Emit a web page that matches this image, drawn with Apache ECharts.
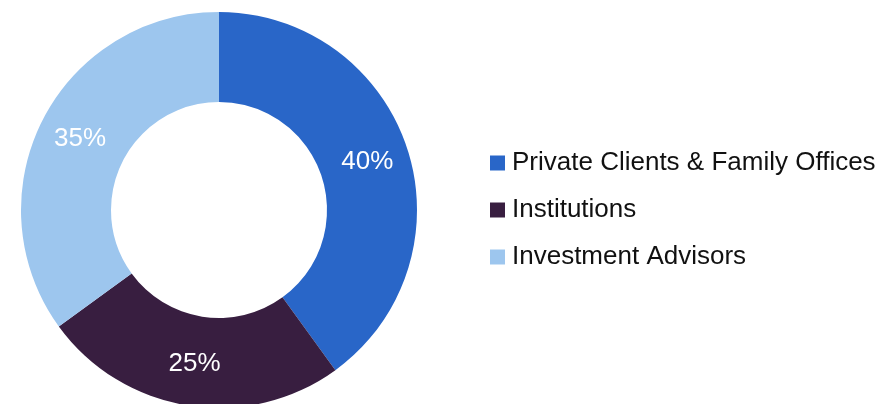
<!DOCTYPE html>
<html>
<head>
<meta charset="utf-8">
<script src="https://cdn.jsdelivr.net/npm/echarts@6/dist/echarts.min.js"></script>
<style>
    html, body { margin: 0; padding: 0; background: #fff; }
    #chart { width: 889px; height: 404px; }
</style>
</head>
<body>
<div id="chart"></div>
<script>
const categories = ['Private Clients & Family Offices', 'Institutions', 'Investment Advisors']
const shares = [40, 25, 35]
const colors = ['#2966C8', '#381E40', '#9DC6EE']

let chart = echarts.init(document.getElementById('chart'))

let option = {
    animation: false,
    color: colors,
    legend: {
        orient: 'vertical',
        left: 485,
        top: 145,
        icon: 'rect',
        itemWidth: 15,
        itemHeight: 15,
        itemGap: 21,
        textStyle: {
            fontFamily: 'Liberation Sans, Arial, sans-serif',
            fontSize: 26,
            lineHeight: 26,
            color: '#111',
            padding: [0, 0, 0, 2]
        },
        data: categories
    },
    series: [
        {
            type: 'pie',
            center: [219, 210],
            radius: [108, 198],
            startAngle: 90,
            clockwise: true,
            avoidLabelOverlap: false,
            label: {
                show: true,
                position: 'inside',
                formatter: '{c}%',
                color: '#fff',
                fontFamily: 'Liberation Sans, Arial, sans-serif',
                fontSize: 26
            },
            labelLine: { show: false },
            emphasis: { disabled: true },
            data: categories.map((name, i) => ({ name: name, value: shares[i] }))
        }
    ]
}

chart.setOption(option)
</script>
</body>
</html>
